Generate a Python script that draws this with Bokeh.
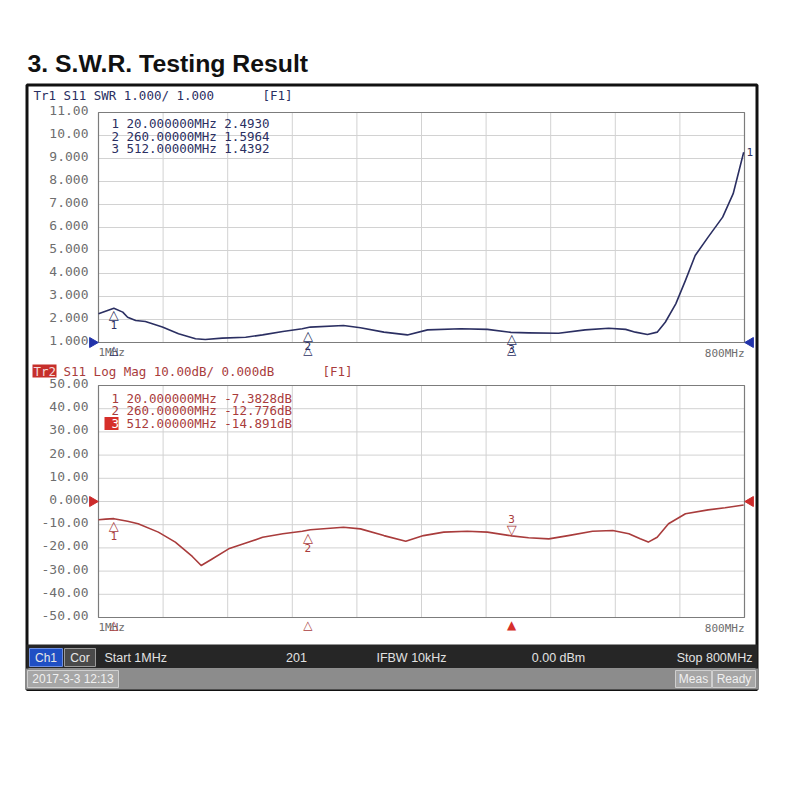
import numpy as np
from bokeh.plotting import figure
from bokeh.models import Range1d
from bokeh.embed import file_html
from bokeh.resources import INLINE
from bokeh.core.properties import value

# ---------------- data ----------------
title_text = "3. S.W.R. Testing Result"
freq_start_mhz = 1
freq_stop_mhz = 800
freq_divisions = 10

swr_freq_mhz = [1, 20, 31, 37, 47, 59, 80, 100, 121, 133, 154, 183, 204, 229, 253, 263,
                304, 325, 354, 383, 408, 449, 482, 511, 533, 570, 603, 632, 653, 665,
                680, 692, 702, 715, 727, 739, 755, 773, 786, 799]
swr_values = [2.25, 2.49, 2.32, 2.10, 1.96, 1.91, 1.67, 1.38, 1.16, 1.13, 1.19, 1.23, 1.33,
              1.48, 1.60, 1.67, 1.74, 1.64, 1.45, 1.33, 1.55, 1.60, 1.57, 1.44, 1.42, 1.40,
              1.55, 1.62, 1.57, 1.45, 1.35, 1.45, 1.88, 2.68, 3.70, 4.78, 5.58, 6.45, 7.47, 9.27]

db_freq_mhz = [1, 10, 20, 37, 50, 75, 96, 117, 128, 140, 162, 187, 204, 229, 253, 263, 304,
               325, 354, 381, 403, 428, 457, 482, 512, 533, 558, 582, 612, 637, 657, 671,
               681, 692, 706, 727, 755, 776, 799]
db_values = [-7.9, -7.6, -7.4, -8.5, -9.6, -13.2, -17.5, -23.7, -27.6, -25.1, -20.4, -17.5,
             -15.4, -13.9, -12.8, -12.2, -11.1, -11.8, -14.7, -17.1, -14.7, -13.2, -12.8,
             -13.2, -14.8, -15.6, -16.1, -14.7, -12.8, -12.5, -13.9, -16.1, -17.5, -15.4,
             -9.6, -5.3, -3.6, -2.7, -1.5]

marker_ids = ["1", "2", "3"]
marker_freq_mhz = [20.0, 260.0, 512.0]
marker_swr = [2.4930, 1.5964, 1.4392]
marker_db = [-7.3828, -12.776, -14.891]
active_marker = "3"

swr_ticks = [1, 2, 3, 4, 5, 6, 7, 8, 9, 10, 11]
swr_tick_labels = ["1.000", "2.000", "3.000", "4.000", "5.000", "6.000", "7.000",
                   "8.000", "9.000", "10.00", "11.00"]
db_ticks = [-50, -40, -30, -20, -10, 0, 10, 20, 30, 40, 50]
db_tick_labels = ["-50.00", "-40.00", "-30.00", "-20.00", "-10.00", "0.000",
                  "10.00", "20.00", "30.00", "40.00", "50.00"]
swr_reference = 1.0
db_reference = 0.0

status_row = ["Start 1MHz", "201", "IFBW 10kHz", "0.00 dBm", "Stop 800MHz"]
timestamp_text = "2017-3-3 12:13"

# ---------------- layout (page pixels) ----------------
W, H = 784, 700
C_L, C_R, C_T, C_B = 0, W, 0, H
PLOT_L, PLOT_R = 98, 744
SWR_TOP, SWR_BOT = 112, 342
DB_TOP, DB_BOT = 385, 617

NAVY = "#2b2f62"
RED = "#a93c3c"
GRID = "#d2d2d2"
TICK = "#6e6e6e"
MONO = value("DejaVu Sans Mono")
SYM = value("DejaVu Sans")
SANS = value("Liberation Sans")


def mapped_range(v_a, px_a, v_b, px_b, px_start, px_end):
    k = (v_b - v_a) / (px_b - px_a)
    return Range1d(start=v_a + (px_start - px_a) * k, end=v_a + (px_end - px_a) * k)


p = figure(width=W, height=H, x_range=Range1d(C_L, C_R), y_range=Range1d(C_B, C_T),
           x_axis_type=None, y_axis_type=None, toolbar_location=None,
           output_backend="svg", min_border=0, outline_line_color=None,
           background_fill_color="white", border_fill_color="white")
p.min_border_left = p.min_border_right = p.min_border_top = p.min_border_bottom = 0

p.extra_x_ranges = {"freq": mapped_range(freq_start_mhz, PLOT_L, freq_stop_mhz, PLOT_R, C_L, C_R)}
p.extra_y_ranges = {
    "swr": mapped_range(swr_ticks[0], SWR_BOT, swr_ticks[-1], SWR_TOP, C_B, C_T),
    "db": mapped_range(db_ticks[0], DB_BOT, db_ticks[-1], DB_TOP, C_B, C_T),
}

# ---------------- page title ----------------
p.text(x=[27], y=[63], text=[title_text], text_font=SANS, text_font_style="bold",
       text_font_size="24.8px", text_baseline="alphabetic", text_color="#111111")

# ---------------- instrument screen frame ----------------
p.quad(left=[26.5], right=[756.5], top=[84.5], bottom=[689], fill_color="white",
       line_color="#111111", line_width=3)

freq_grid = np.linspace(freq_start_mhz, freq_stop_mhz, freq_divisions + 1)

panels = [
    ("swr", swr_ticks, swr_tick_labels, swr_freq_mhz, swr_values, marker_swr, NAVY, SWR_BOT),
    ("db", db_ticks, db_tick_labels, db_freq_mhz, db_values, marker_db, RED, DB_BOT),
]
for yname, ticks, tlabels, fx, fy, mvals, color, bot_px in panels:
    lo, hi = ticks[0], ticks[-1]
    p.segment(x0=freq_grid, x1=freq_grid, y0=lo, y1=hi, x_range_name="freq",
              y_range_name=yname, line_color=GRID, line_width=1)
    p.segment(x0=freq_start_mhz, x1=freq_stop_mhz, y0=ticks, y1=ticks, x_range_name="freq",
              y_range_name=yname, line_color=GRID, line_width=1)
    p.quad(left=[freq_start_mhz], right=[freq_stop_mhz], bottom=[lo], top=[hi],
           x_range_name="freq", y_range_name=yname, fill_color=None,
           line_color="#7c7c7c", line_width=1.2)
    p.text(x=88, y=ticks, text=tlabels, y_range_name=yname, text_align="right",
           text_baseline="middle", y_offset=-2, text_font=MONO, text_font_size="13px",
           text_color=TICK)
    p.line(fx, fy, x_range_name="freq", y_range_name=yname, line_color=color,
           line_width=1.6, line_join="round")
    p.text(x=[freq_start_mhz], y=[bot_px + 10], text=["1MHz"], x_range_name="freq",
           text_align="left", text_baseline="middle", text_font=MONO,
           text_font_size="11px", text_color=TICK)
    p.text(x=[freq_stop_mhz], y=[bot_px + 11], text=["800MHz"], x_range_name="freq",
           text_align="right", text_baseline="middle", text_font=MONO,
           text_font_size="11px", text_color=TICK)

# reference-level triangles on both edges
p.scatter(x=[92, 750], y=[swr_reference] * 2, y_range_name="swr", marker="triangle",
          size=10, angle=[-np.pi / 2, np.pi / 2], fill_color="#2233aa", line_color="#2233aa")
p.scatter(x=[92, 750], y=[db_reference] * 2, y_range_name="db", marker="triangle",
          size=10, angle=[-np.pi / 2, np.pi / 2], fill_color="#cc2b2b", line_color="#cc2b2b")

# ---------------- headers ----------------
p.text(x=[33], y=[95], text=["Tr1 S11 SWR 1.000/ 1.000"], text_baseline="middle",
       text_font=MONO, text_font_size="12.5px", text_color=NAVY)
p.text(x=[262], y=[95], text=["[F1]"], text_baseline="middle",
       text_font=MONO, text_font_size="12.5px", text_color=NAVY)
p.quad(left=[32], right=[56], top=[364], bottom=[377], fill_color="#c62f2b", line_color=None)
p.text(x=[33], y=[370.5], text=["Tr2"], text_baseline="middle",
       text_font=MONO, text_font_size="12.5px", text_color="#f4dcdc")
p.text(x=[63], y=[370.5], text=["S11 Log Mag 10.00dB/ 0.000dB"], text_baseline="middle",
       text_font=MONO, text_font_size="12.5px", text_color=RED)
p.text(x=[322], y=[370.5], text=["[F1]"], text_baseline="middle",
       text_font=MONO, text_font_size="12.5px", text_color=RED)


# ---------------- marker readouts ----------------
def fmt_freq(f):
    digits = len(str(int(f)))
    return f"{f:.{8 - digits}f}MHz"


def fmt_db(v):
    digits = len(str(int(abs(v))))
    return f"{v:.{5 - digits}f}dB"


swr_lines = [f"{fmt_freq(f)} {v:.4f}" for f, v in zip(marker_freq_mhz, marker_swr)]
db_lines = [f"{fmt_freq(f)} {fmt_db(v)}" for f, v in zip(marker_freq_mhz, marker_db)]
swr_rows = [123, 135.5, 148]
db_rows = [397.5, 410, 423]

p.text(x=111, y=swr_rows, text=marker_ids, text_baseline="middle", text_font=MONO,
       text_font_size="12.5px", text_color=NAVY)
p.text(x=126, y=swr_rows, text=swr_lines, text_baseline="middle", text_font=MONO,
       text_font_size="12.5px", text_color=NAVY)
for mid, yy in zip(marker_ids, db_rows):
    if mid == active_marker:
        p.quad(left=[104], right=[118], top=[yy - 6.5], bottom=[yy + 6.5],
               fill_color="#d62f2a", line_color=None)
p.text(x=111, y=db_rows, text=marker_ids, text_baseline="middle", text_font=MONO,
       text_font_size="12.5px",
       text_color=["#ffffff" if m == active_marker else RED for m in marker_ids])
p.text(x=126, y=db_rows, text=db_lines, text_baseline="middle", text_font=MONO,
       text_font_size="12.5px", text_color=RED)

# ---------------- markers on traces ----------------
p.text(x=marker_freq_mhz, y=marker_swr, text=["△"] * 3, x_range_name="freq",
       y_range_name="swr", text_align="center", text_baseline="top", y_offset=-1,
       text_font=SYM, text_font_size="13px", text_color=NAVY)
p.text(x=marker_freq_mhz, y=marker_swr, text=marker_ids, x_range_name="freq",
       y_range_name="swr", text_align="center", text_baseline="top", y_offset=13,
       text_font=MONO, text_font_size="11px", text_color=NAVY)
p.text(x=[freq_stop_mhz], y=[swr_values[-1]], text=["1"], x_range_name="freq",
       y_range_name="swr", text_align="left", text_baseline="middle", x_offset=2,
       text_font=MONO, text_font_size="11px", text_color=NAVY)

pas_f = [f for f, m in zip(marker_freq_mhz, marker_ids) if m != active_marker]
pas_v = [v for v, m in zip(marker_db, marker_ids) if m != active_marker]
pas_id = [m for m in marker_ids if m != active_marker]
act_f = [f for f, m in zip(marker_freq_mhz, marker_ids) if m == active_marker]
act_v = [v for v, m in zip(marker_db, marker_ids) if m == active_marker]
act_id = [m for m in marker_ids if m == active_marker]

p.text(x=pas_f, y=pas_v, text=["△"] * len(pas_f), x_range_name="freq", y_range_name="db",
       text_align="center", text_baseline="top", y_offset=-1, text_font=SYM,
       text_font_size="13px", text_color=RED)
p.text(x=pas_f, y=pas_v, text=pas_id, x_range_name="freq", y_range_name="db",
       text_align="center", text_baseline="top", y_offset=13, text_font=MONO,
       text_font_size="11px", text_color=RED)
p.text(x=act_f, y=act_v, text=["▽"] * len(act_f), x_range_name="freq", y_range_name="db",
       text_align="center", text_baseline="bottom", y_offset=1, text_font=SYM,
       text_font_size="13px", text_color=RED)
p.text(x=act_f, y=act_v, text=act_id, x_range_name="freq", y_range_name="db",
       text_align="center", text_baseline="bottom", y_offset=-13, text_font=MONO,
       text_font_size="11px", text_color=RED)

# stimulus (x-position) indicators under each grid
p.text(x=marker_freq_mhz, y=[SWR_BOT] * 3, text=["△"] * 3, x_range_name="freq",
       text_align="center", text_baseline="top", text_font=SYM, text_font_size="12px",
       text_color=NAVY)
p.text(x=pas_f, y=[DB_BOT] * len(pas_f), text=["△"] * len(pas_f), x_range_name="freq",
       text_align="center", text_baseline="top", text_font=SYM, text_font_size="12px",
       text_color=RED)
p.text(x=act_f, y=[DB_BOT] * len(act_f), text=["▲"] * len(act_f), x_range_name="freq",
       text_align="center", text_baseline="top", text_font=SYM, text_font_size="12px",
       text_color="#d62f2a")

# ---------------- status bars ----------------
p.quad(left=[26], right=[757], top=[644], bottom=[668], fill_color="#262626", line_color=None)
p.quad(left=[29], right=[62], top=[648], bottom=[666], fill_color="#1f4fc4", line_color="#6f8fe0")
p.quad(left=[64], right=[95], top=[648], bottom=[666], fill_color="#4a4a4a", line_color="#9a9a9a")
p.text(x=[45.5, 79.5], y=[657, 657], text=["Ch1", "Cor"], text_align="center",
       text_baseline="middle", text_font=SANS, text_font_size="12px", text_color="#e8e8e8")
p.text(x=[104, 296, 411, 558, 752], y=[657] * 5, text=status_row,
       text_align=["left", "center", "center", "center", "right"], text_baseline="middle",
       text_font=SANS, text_font_size="12.5px", text_color="#e2e2e2")

p.quad(left=[25], right=[758], top=[668], bottom=[689], fill_color="#8c8c8c", line_color=None)
p.quad(left=[27, 675, 712], right=[118, 711, 755], top=[670] * 3, bottom=[687] * 3,
       fill_color="#a6a6a6", line_color="#cfcfcf")
p.text(x=[72.5, 693, 733.5], y=[678.5] * 3, text=[timestamp_text, "Meas", "Ready"],
       text_align="center", text_baseline="middle", text_font=SANS,
       text_font_size="12px", text_color="#f0f0f0")

open("out.html", "w").write(file_html(p, INLINE))
